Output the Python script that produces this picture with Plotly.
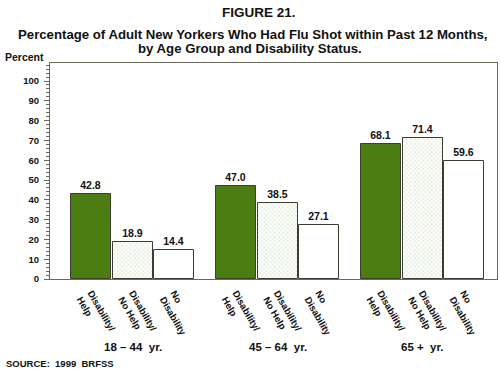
import plotly.graph_objects as go

groups = ["18 – 44  yr.", "45 – 64  yr.", "65 +  yr."]
series = ["Disability/<br>Help", "Disability/<br>No Help", "No<br>Disability"]
help_vals = [42.8, 47.0, 68.1]
nohelp_vals = [18.9, 38.5, 71.4]
nodis_vals = [14.4, 27.1, 59.6]
y_ticks = [0, 10, 20, 30, 40, 50, 60, 70, 80, 90, 100]

values = [help_vals, nohelp_vals, nodis_vals]
offsets = [-0.286, 0.0, 0.286]
bar_w = 0.276
green = "#4b7d12"
edge = "#3c3c30"
font_family = "Liberation Sans, Arial, sans-serif"

fig = go.Figure()
gidx = list(range(len(groups)))
for i, (name, vals) in enumerate(zip(series, values)):
    xs = [g + offsets[i] for g in gidx]
    marker = dict(line=dict(color=edge, width=1))
    if i == 0:
        marker["color"] = green
    elif i == 1:
        marker["color"] = "white"
        marker["pattern"] = dict(shape="x", size=3, solidity=0.35,
                                 fgcolor="#a9c496", bgcolor="white")
    else:
        marker["color"] = "white"
    fig.add_trace(go.Bar(
        x=xs, y=vals, width=bar_w, name=name, marker=marker,
        text=[f"{v:.1f}" for v in vals], textposition="outside",
        textfont=dict(family=font_family, size=10.5, color="#111", weight="bold"),
        cliponaxis=False, showlegend=False, hoverinfo="skip",
    ))

tickvals = []
ticktext = []
for g in gidx:
    for i, s in enumerate(series):
        tickvals.append(g + offsets[i])
        ticktext.append(s)

fig.update_layout(
    width=500, height=370,
    margin=dict(l=50, r=3, t=63, b=91),
    paper_bgcolor="white", plot_bgcolor="white",
    font=dict(family=font_family, color="#111"),
    bargap=0,
    xaxis=dict(range=[-0.572, 2.514], tickvals=tickvals, ticktext=ticktext,
               tickangle=60, ticks="", showgrid=False, zeroline=False, automargin=False,
               showline=True, linecolor="#6a6a5a", linewidth=1, mirror=True,
               ticklabelstandoff=4,
               tickfont=dict(family=font_family, size=9.5, weight="bold")),
    yaxis=dict(range=[0, 109.1], tickvals=y_ticks, ticks="outside", ticklen=5,
               tickcolor="#6a6a5a", showgrid=False, zeroline=False, automargin=False,
               showline=True, linecolor="#6a6a5a", linewidth=1, mirror=True,
               ticklabelstandoff=3,
               tickfont=dict(family=font_family, size=9.5, weight="bold"),
               minor=dict(dtick=2, ticks="outside", ticklen=3, tickcolor="#6a6a5a")),
)

ann = []
for g, lab in zip(gidx, groups):
    ann.append(dict(x=g, y=-0.315, xref="x", yref="paper", text=lab, showarrow=False,
                    font=dict(size=11.5, weight="bold"), xanchor="center", yanchor="middle"))
ann += [
    dict(x=0.467, y=1.236, xref="paper", yref="paper", text="FIGURE 21.", showarrow=False,
         font=dict(size=13.5, weight="bold"), xanchor="center", yanchor="middle"),
    dict(x=0.452, y=1.134, xref="paper", yref="paper",
         text="Percentage of Adult New Yorkers Who Had Flu Shot within Past 12 Months,",
         showarrow=False, font=dict(size=13.2, weight="bold"), xanchor="center", yanchor="middle"),
    dict(x=0.447, y=1.065, xref="paper", yref="paper",
         text="by Age Group and Disability Status.",
         showarrow=False, font=dict(size=13.2, weight="bold"), xanchor="center", yanchor="middle"),
    dict(x=-0.105, y=1.028, xref="paper", yref="paper", text="Percent", showarrow=False,
         font=dict(size=10.5, weight="bold"), xanchor="left", yanchor="middle"),
    dict(x=-0.103, y=-0.389, xref="paper", yref="paper", text="SOURCE:  1999  BRFSS",
         showarrow=False, font=dict(size=9.5, weight="bold"), xanchor="left", yanchor="middle"),
]
fig.update_layout(annotations=ann)

fig.write_html("out.html", config={"displayModeBar": False},
               post_script="document.body.style.margin='0';document.body.style.overflow='hidden';")
